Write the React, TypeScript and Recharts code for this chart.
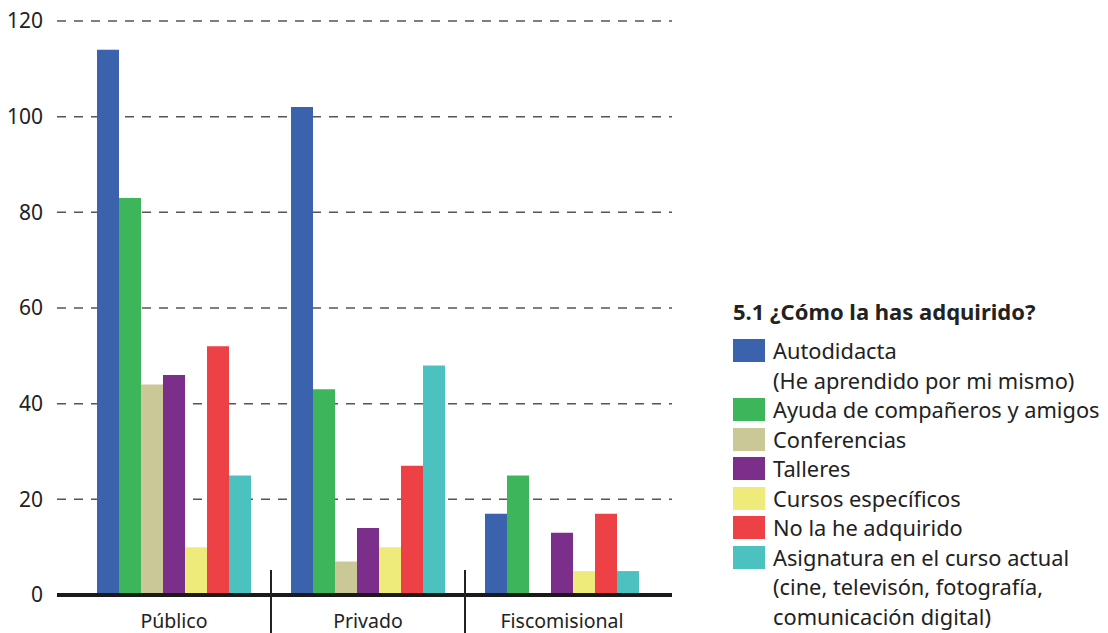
import { BarChart, Bar, XAxis, YAxis, CartesianGrid } from "recharts";

const categories = ["Público", "Privado", "Fiscomisional"];
const autodidacta = [114, 102, 17];
const ayuda = [83, 43, 25];
const conferencias = [44, 7, 0];
const talleres = [46, 14, 13];
const cursos = [10, 10, 5];
const noAdquirido = [52, 27, 17];
const asignatura = [25, 48, 5];
const yTicks = [0, 20, 40, 60, 80, 100, 120];

const series = [
  { key: "autodidacta", values: autodidacta, color: "#3A62AD", label: ["Autodidacta", "(He aprendido por mi mismo)"] },
  { key: "ayuda", values: ayuda, color: "#3DB55B", label: ["Ayuda de compañeros y amigos"] },
  { key: "conferencias", values: conferencias, color: "#C9C896", label: ["Conferencias"] },
  { key: "talleres", values: talleres, color: "#7B2F8A", label: ["Talleres"] },
  { key: "cursos", values: cursos, color: "#EFEB7B", label: ["Cursos específicos"] },
  { key: "noAdquirido", values: noAdquirido, color: "#EE4145", label: ["No la he adquirido"] },
  {
    key: "asignatura",
    values: asignatura,
    color: "#4BC1C0",
    label: ["Asignatura en el curso actual", "(cine, televisón, fotografía,", "comunicación digital)"],
  },
];

const data = categories.map((name, i) => {
  const row: Record<string, string | number> = { name };
  series.forEach((s) => (row[s.key] = s.values[i]));
  return row;
});

const W = 1108;
const H = 633;
const M = { top: 21, right: 436, bottom: 0, left: 0 };
const Y_W = 57;
const X_H = 38;
const PAD = { left: 20, right: 13 };
const AXIS_Y = H - X_H;
const BAND = (W - M.right - Y_W - PAD.left - PAD.right) / categories.length;
const FONT = "'Noto Sans', sans-serif";

function CategoryTick(props: any) {
  const { x, payload, index } = props;
  return (
    <g>
      {index > 0 && <line x1={x - BAND / 2} x2={x - BAND / 2} y1={AXIS_Y - 25} y2={H} stroke="#222" strokeWidth={2} />}
      <text x={x} y={AXIS_Y + 33} textAnchor="middle" fontSize={19.5} fill="#222" fontFamily={FONT}>
        {payload.value}
      </text>
    </g>
  );
}

function LegendBox() {
  return (
    <div style={{ position: "absolute", left: 733, top: 296, fontFamily: FONT, color: "#222" }}>
      <div style={{ fontWeight: 700, fontSize: 22, marginBottom: 10, whiteSpace: "nowrap" }}>5.1 ¿Cómo la has adquirido?</div>
      {series.map((s) => (
        <div key={s.key} style={{ display: "flex", alignItems: "flex-start" }}>
          <div style={{ width: 32, height: 23, background: s.color, marginTop: 3, marginRight: 8, flexShrink: 0 }} />
          <div style={{ fontSize: 21.8, lineHeight: "29.5px", whiteSpace: "nowrap" }}>
            {s.label.map((l) => (
              <div key={l}>{l}</div>
            ))}
          </div>
        </div>
      ))}
    </div>
  );
}

export default function App() {
  return (
    <div style={{ position: "absolute", left: 0, top: 0, width: W, height: H }}>
      <BarChart width={W} height={H} data={data} margin={M} barGap={0} barCategoryGap={20}>
        <CartesianGrid vertical={false} strokeDasharray="9 8" stroke="#555" strokeWidth={1.5} />
        <XAxis
          dataKey="name"
          height={X_H}
          padding={PAD}
          axisLine={{ stroke: "#1a1a1a", strokeWidth: 4 }}
          tickLine={false}
          tick={<CategoryTick />}
          interval={0}
        />
        <YAxis
          domain={[0, 120]}
          ticks={yTicks}
          width={Y_W}
          axisLine={false}
          tickLine={false}
          tickMargin={8}
          tick={{ fontSize: 21, fill: "#222", fontFamily: FONT }}
        />
        {series.map((s) => (
          <Bar key={s.key} dataKey={s.key} fill={s.color} isAnimationActive={false} />
        ))}
      </BarChart>
      <LegendBox />
    </div>
  );
}
